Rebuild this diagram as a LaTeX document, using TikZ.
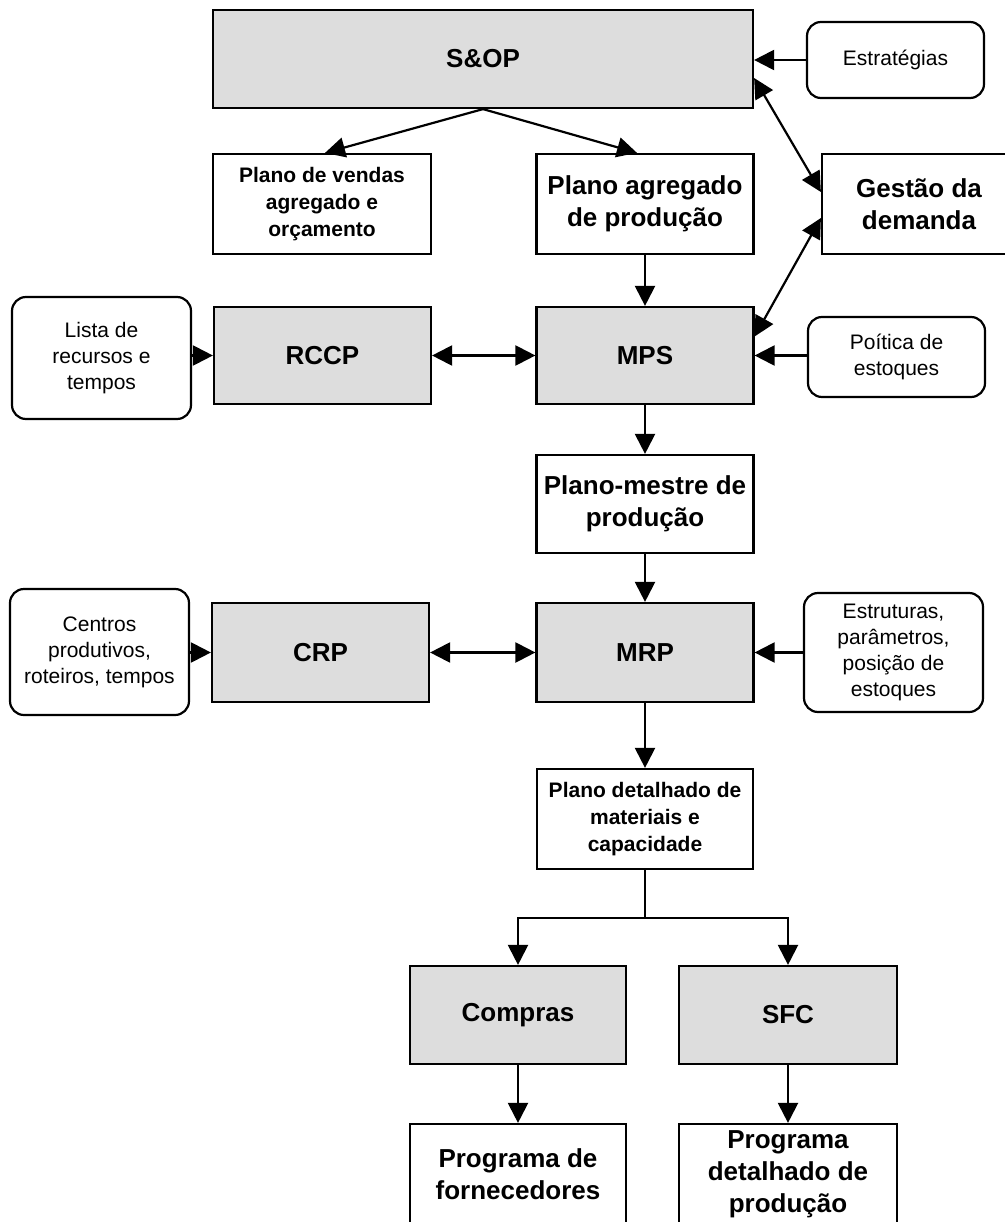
\documentclass[tikz,border=0pt]{standalone}
\usepackage{fontspec}
\setmainfont{Liberation Sans}
\usetikzlibrary{arrows.meta,calc}
\definecolor{boxgray}{HTML}{DDDDDD}
\begin{document}
\begin{tikzpicture}[x=1pt,y=-1pt,
  line width=2.2pt,
  tip/.tip={Triangle[length=20pt,width=20pt]},
  arr/.style={-tip},
  biarr/.style={tip-tip},
  plainbox/.style={draw, inner sep=0pt, align=center, font=\bfseries\fontsize{26}{32}\selectfont},
  graybox/.style={plainbox, fill=boxgray},
  smallbox/.style={plainbox, font=\bfseries\fontsize{21}{27}\selectfont},
  roundbox/.style={draw, rounded corners=14pt, inner sep=0pt, align=center, font=\fontsize{21}{26}\selectfont},
  dims/.style 2 args={minimum width=#1pt, minimum height=#2pt}
]
\useasboundingbox (0,0) rectangle (1004,1222);
\fill[white] (0,0) rectangle (1004,1222);

% planning levels
\node[graybox, dims={540}{98}] (sop) at (483,59) {S\&OP};
\node[roundbox, dims={177}{76}] (estr) at (895.5,60) {Estratégias};
\node[smallbox, dims={218}{100}] (pvend) at (322,204) {Plano de vendas\\agregado e\\orçamento};
\node[plainbox, dims={217}{100}] (pagr) at (645,204) {Plano agregado\\de produção};
\node[plainbox, dims={194}{100}] (gest) at (919,204) {Gestão da\\demanda};

\node[roundbox, dims={179}{122}] (lista) at (101.5,358) {Lista de\\recursos e\\tempos};
\node[graybox, dims={217}{97}] (rccp) at (322.5,355.5) {RCCP};
\node[graybox, dims={217}{97}] (mps) at (645,355.5) {MPS};
\node[roundbox, dims={177}{80}] (pol) at (896.5,357) {Poítica de\\estoques};

\node[plainbox, dims={217}{98}] (pmestre) at (645,504) {Plano-mestre de\\produção};

\node[roundbox, dims={179}{126}] (centros) at (99.5,652) {Centros\\produtivos,\\roteiros, tempos};
\node[graybox, dims={217}{99}] (crp) at (320.5,652.5) {CRP};
\node[graybox, dims={217}{99}] (mrp) at (645,652.5) {MRP};
\node[roundbox, dims={179}{119}] (estrut) at (893.5,652.5) {Estruturas,\\parâmetros,\\posição de\\estoques};

\node[smallbox, dims={216}{100}] (pdet) at (645,819) {Plano detalhado de\\materiais e\\capacidade};

\node[graybox, dims={216}{98}] (compras) at (518,1015) {Compras};
\node[graybox, dims={218}{98}] (sfc) at (788,1015) {SFC};
\node[plainbox, dims={216}{100}] (pforn) at (518,1174) {Programa de\\fornecedores};
\node[plainbox, dims={218}{100}] (pprod) at (788,1174) {Programa\\detalhado de\\produção};

% connectors
\draw[arr] (estr.west) -- (estr.west -| sop.east);
\draw[arr] (sop.south) -- ($(pvend.north)+(3,0)$);
\draw[arr] (sop.south) -- ($(pagr.north)+(-8,0)$);
\draw[biarr] ($(sop.east)+(0,19)$) -- ($(gest.west)+(0,-12)$);
\draw[biarr] ($(gest.west)+(0,14)$) -- ($(mps.east)+(0,-19)$);
\draw[arr] (pagr.south) -- (mps.north);

\draw[arr] (lista.east |- rccp.west) -- (rccp.west);
\draw[biarr] (rccp.east) -- (mps.west);
\draw[arr] (pol.west |- mps.east) -- (mps.east);
\draw[arr] (mps.south) -- (pmestre.north);
\draw[arr] (pmestre.south) -- (mrp.north);

\draw[arr] (centros.east |- crp.west) -- (crp.west);
\draw[biarr] (crp.east) -- (mrp.west);
\draw[arr] (estrut.west |- mrp.east) -- (mrp.east);
\draw[arr] (mrp.south) -- (pdet.north);

\coordinate (split) at ($(pdet.south)+(0,48)$);
\draw (pdet.south) -- (split);
\draw[arr] (split) -| (compras.north);
\draw[arr] (split) -| (sfc.north);
\draw[arr] (compras.south) -- (pforn.north);
\draw[arr] (sfc.south) -- (pprod.north);
\end{tikzpicture}
\end{document}
